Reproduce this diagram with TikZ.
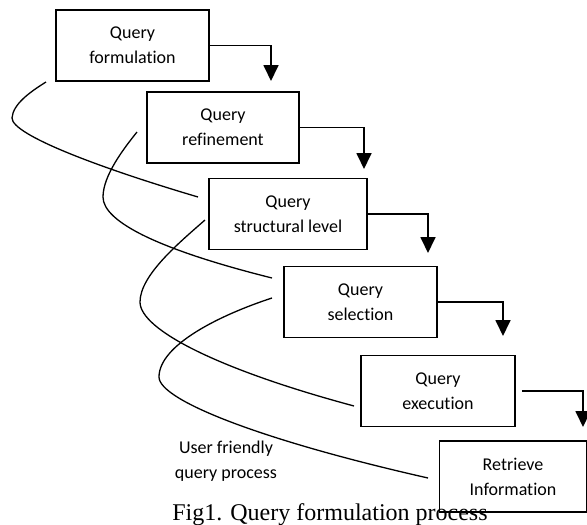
\documentclass[tikz,border=0pt]{standalone}
\usepackage{fontspec}
\newfontfamily\boxfont{Carlito}[Ligatures=NoCommon]
\newfontfamily\capfont{Liberation Serif}
\usetikzlibrary{arrows.meta}

\begin{document}
\begin{tikzpicture}[x=1pt,y=-1pt,
    stage/.style={draw,line width=1.5pt,minimum height=71pt,align=center,
                  font=\boxfont\fontsize{18}{25}\selectfont},
    flow/.style={line width=1.8pt,-{Triangle[width=15pt,length=16pt]}},
    swirl/.style={line width=1.3pt},
    note/.style={align=center,font=\boxfont\fontsize{18}{25}\selectfont}]
  \useasboundingbox (0,0) rectangle (587,525);
  \foreach[count=\i] \x/\y/\w/\t in {132.5/45.5/153/{Query\\formulation},
      223/127.5/152/{Query\\refinement}, 288/214/158/{Query\\structural level},
      360.5/302/153/{Query\\selection}, 438/391/154/{Query\\execution},
      513/476.5/147/{Retrieve\\Information}} {
    \node[stage,minimum width=\w pt] (b\i) at (\x,\y) {\t};
  }

  \coordinate (t1) at (271,81);
  \coordinate (t2) at (364,169);
  \coordinate (t3) at (428,253);
  \coordinate (t4) at (503,336);
  \coordinate (t5) at (583,427);
  \draw[flow] (b1.east) -| (t1);
  \draw[flow] (b2.east) -| (t2);
  \draw[flow] (b3.east) -| (t3);
  \draw[flow] (b4.east) -| (t4);
  \draw[flow,shorten <=6pt] (b5.east) -| (t5);

  % the four loops
  \coordinate (s1) at (46,82);   \coordinate (e1) at (198,197);
  \coordinate (s2) at (137,132); \coordinate (e2) at (272,278);
  \coordinate (s3) at (205,220); \coordinate (e3) at (354,406);
  \coordinate (s4) at (272,298); \coordinate (e4) at (428,478);
  \draw[swirl] (s1) .. controls (30,92) and (13,104) .. (12,118)
                    .. controls (12,135) and (100,168) .. (e1);
  \draw[swirl] (s2) .. controls (125,147) and (103,175) .. (103,197)
                    .. controls (103,222) and (160,250) .. (e2);
  \draw[swirl] (s3) .. controls (180,242) and (140,275) .. (140,302)
                    .. controls (140,330) and (220,370) .. (e3);
  \draw[swirl] (s4) .. controls (220,315) and (159,345) .. (159,377)
                    .. controls (159,400) and (260,440) .. (e4);

  \node[note] (user) at (226,461) {User friendly\\query process};
  \node[font=\capfont\fontsize{24}{28}\selectfont,anchor=base] (cap) at (330,520)
    {Fig1. Query formulation process};
\end{tikzpicture}
\end{document}
